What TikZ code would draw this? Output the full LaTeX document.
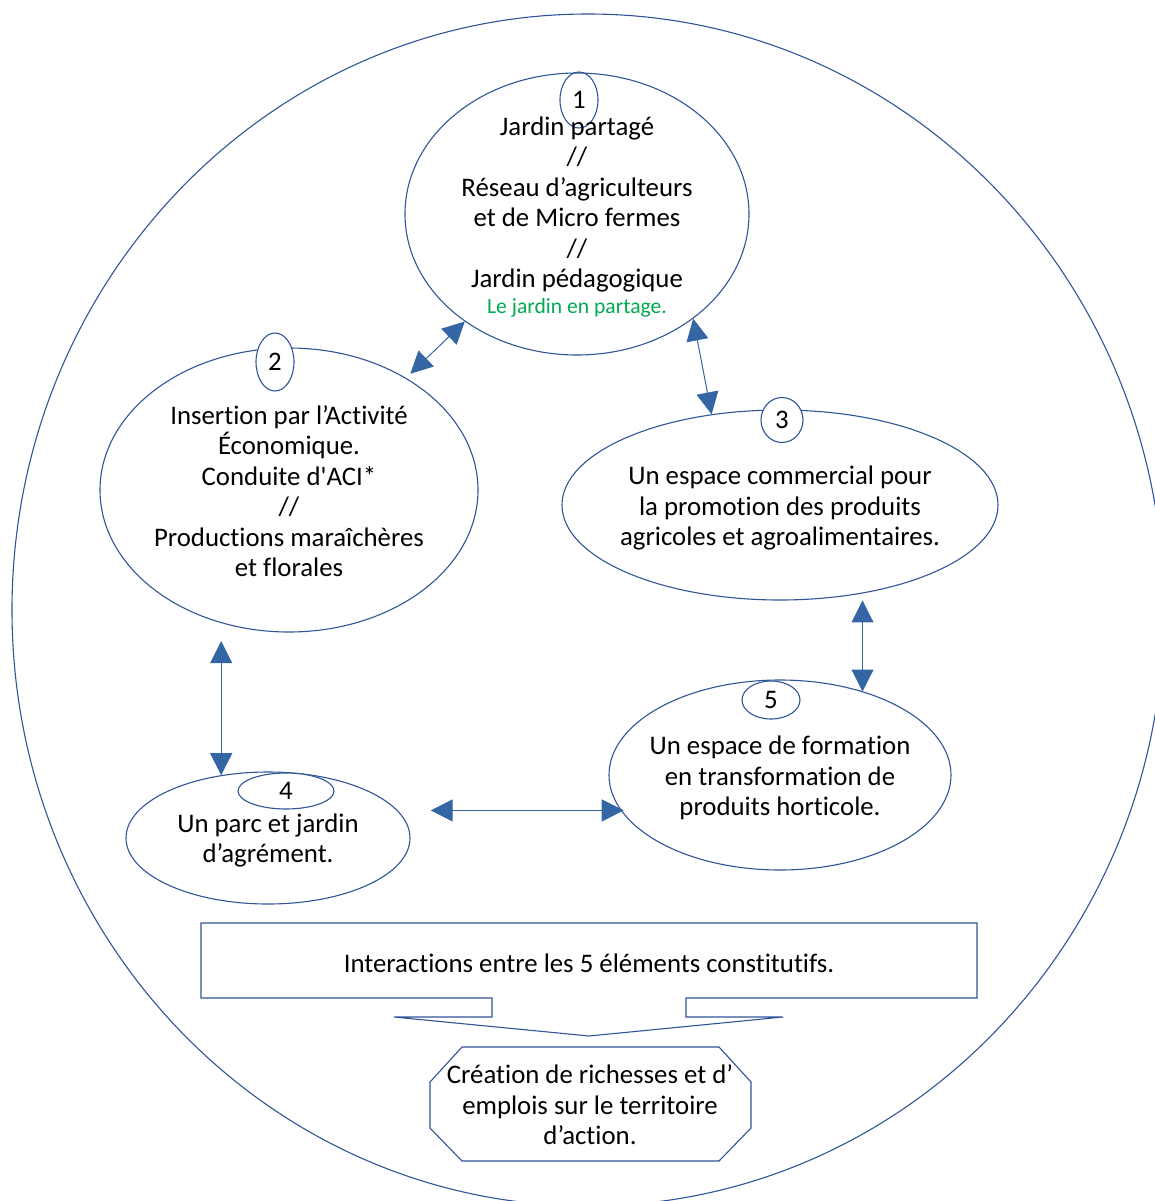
\documentclass[tikz,border=0pt]{standalone}
\usepackage{fontspec}
\setmainfont{Carlito}[Ligatures={TeX,NoCommon,NoContextual,NoRequired},Contextuals=NoAlternate]
\newfontfamily\quotefont{Carlito}
\usetikzlibrary{arrows.meta,shapes.geometric}
\definecolor{lineblue}{RGB}{47,85,151}
\definecolor{arrowblue}{RGB}{52,101,164}
\definecolor{greentxt}{RGB}{0,170,80}

\begin{document}
\begin{tikzpicture}[x=0.5pt,y=-0.5pt,
  ell/.style={ellipse,draw=lineblue,line width=0.55pt,inner sep=0},
  badge/.style={ellipse,draw=lineblue,line width=0.55pt,fill=white,inner sep=0},
  txt/.style={align=center,inner sep=0,font=\fontsize{13.4}{15.25}\selectfont},
  dbl/.style={{Triangle[width=11pt,length=11pt]}-{Triangle[width=11pt,length=11pt]},draw=arrowblue,line width=0.5pt}]
\useasboundingbox (0,0) rectangle (1155,1201);

\node[ell,minimum width=576pt,minimum height=596pt] (frame) at (588,610) {};

% the five elements
\node[ell,minimum width=172pt,minimum height=141pt] (e1) at (577,214) {};
\node[ell,minimum width=189pt,minimum height=142pt] (e2) at (289,490) {};
\node[ell,minimum width=218pt,minimum height=95pt] (e3) at (780,505) {};
\node[ell,minimum width=142pt,minimum height=66pt] (e4) at (268,838) {};
\node[ell,minimum width=171pt,minimum height=95pt] (e5) at (780,775) {};

\node[badge,fill=none,minimum width=19pt,minimum height=28pt] (b1) at (579,100) {};
\node[badge,minimum width=19pt,minimum height=29pt] (b2) at (275,362) {};
\node[badge,minimum width=21pt,minimum height=22.5pt] (b3) at (782,420) {};
\node[badge,minimum width=48pt,minimum height=18pt] (b4) at (286,791) {};
\node[badge,minimum width=29pt,minimum height=19pt] (b5) at (771,700) {};

\node[txt] (n1) at (b1) {1};
\node[txt] (n2) at (b2) {2};
\node[txt] (n3) at (b3) {3};
\node[txt] (n4) at (b4) {4};
\node[txt] (n5) at (b5) {5};

\node[txt] (t1) at (577,217) {Jardin partagé\\ //\\ Réseau d’agriculteurs\\ et de Micro fermes\\ //\\ Jardin pédagogique\\[-2.5pt]
  {\color{greentxt}\fontsize{10.8}{12}\selectfont Le jardin en partage.}};
\node[txt] (t2) at (289,491) {Insertion par l’Activité\\ Économique.\\ Conduite d{\quotefont'}ACI*\\ //\\ Productions maraîchères\\ et florales};
\node[txt] (t3) at (780,508) {Un espace commercial pour\\ la promotion des produits\\ agricoles et agroalimentaires.};
\node[txt] (t4) at (268,840.5) {Un parc et jardin\\ d’agrément.};
\node[txt] (t5) at (780,778) {Un espace de formation\\ en transformation de\\ produits horticole.};

% interactions
\draw[dbl,shorten >=3pt] (e1) -- (e2);
\draw[dbl] (e1.-42) -- (e3.127);
\draw[dbl,shorten <=9pt] (e2.-117.6) -- (e2.-117.6 |- e4.127.7);
\draw[dbl,shorten <=3.5pt] (e3.-47) -- (e3.-47 |- e5.45.3);
\draw[dbl,shorten <=16.5pt,shorten >=-2pt] (e4.12.2) -- (e4.12.2 -| e5.192.4);

% bottom: callout and result
\draw[draw=lineblue,line width=0.55pt] (201,923) -- (977,923) -- (977,998) -- (686,998) -- (686,1017) -- (783,1017)
  -- (589,1036) -- (394,1017) -- (492,1017) -- (492,998) -- (201,998) -- cycle;
\node[txt] (inter) at (589,963) {Interactions entre les 5 éléments constitutifs.};

\draw[draw=lineblue,line width=0.55pt] (462,1047) -- (719,1047) -- (751,1082) -- (751,1128) -- (719,1161)
  -- (462,1161) -- (430,1128) -- (430,1082) -- cycle;
\node[txt] (result) at (590,1105) {Création de richesses et d’\\ emplois sur le territoire\\ d’action.};
\end{tikzpicture}
\end{document}
